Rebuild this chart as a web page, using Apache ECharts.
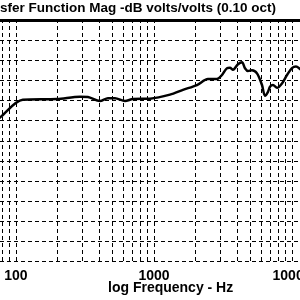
<!DOCTYPE html>
<html><head><meta charset="utf-8">
<script src="https://cdn.jsdelivr.net/npm/echarts@6/dist/echarts.min.js"></script>
<style>html,body{margin:0;padding:0;background:#fff}#c{width:300px;height:300px}</style>
</head><body><div id="c"></div>
<script>
const titleText = 'sfer Function Mag -dB volts/volts (0.10 oct)';
const xAxisTitle = 'log Frequency - Hz';
const freqs = [70, 76.6, 112, 198, 291, 332, 406, 464, 522, 617, 704, 935, 1306, 1622, 2049, 2461, 2861, 3110, 3381, 3553, 3736, 4062, 4342, 4564, 4800, 5130, 5578, 6061, 6372, 6700, 6927, 7282, 7787, 8463, 9201, 10000, 10690, 11430, 12420];
const magDb = [-25.2, -24.2, -19.8, -19.6, -19.0, -19.1, -20.1, -19.4, -19.4, -20.1, -19.6, -19.5, -18.5, -17.3, -16.1, -14.6, -14.6, -13.6, -11.9, -11.8, -12.3, -10.9, -10.4, -11.9, -12.6, -12.4, -13.2, -16.1, -18.8, -17.8, -16.5, -16.1, -16.8, -15.7, -13.6, -11.9, -11.5, -12.1, -13.1];
const xTickLabels = [100, 1000, 10000];
const xGridFreqs = [80, 90, 100, 200, 300, 400, 500, 600, 700, 800, 900, 1000, 2000, 3000, 4000, 5000, 6000, 7000, 8000, 9000, 10000];

const chart = echarts.init(document.getElementById('c'), null, {renderer: 'canvas'});
const font = '"Liberation Sans", Arial, sans-serif';
chart.setOption({
  animation: false,
  backgroundColor: '#fff',
  grid: {left: 0, right: 0, top: 20.5, bottom: 39, containLabel: false, outerBoundsMode: 'none'},
  xAxis: [{
    type: 'log', logBase: 10, min: 76.6, max: 11430,
    axisLine: {show: true, lineStyle: {color: '#000', width: 3}},
    axisTick: {show: false},
    splitLine: {show: false},
    axisLabel: {customValues: xTickLabels, formatter: v => String(Math.round(v)), color: '#000', fontWeight: 'bold', fontSize: 14, fontFamily: font, margin: 8, showMinLabel: true, showMaxLabel: true, hideOverlap: false, alignMinLabel: 'center', alignMaxLabel: 'center'}
  }, {
    type: 'log', logBase: 10, min: 76.6, max: 11430, position: 'top',
    axisLine: {show: true, lineStyle: {color: '#000', width: 3}},
    axisTick: {show: false}, axisLabel: {show: false}, splitLine: {show: false}
  }],
  yAxis: {
    type: 'value', min: -60, max: 0, interval: 5,
    axisLine: {show: false}, axisTick: {show: false}, axisLabel: {show: false},
    splitLine: {show: true, lineStyle: {color: '#000', width: 1, type: [4, 3]}}
  },
  graphic: [
    {type: 'text', left: 0, top: 1, style: {text: titleText, fill: '#000', font: 'bold 13.5px ' + font}},
    {type: 'text', left: 108, top: 281, style: {text: xAxisTitle, fill: '#000', font: 'bold 14px ' + font}}
  ],
  series: [{
    type: 'line', xAxisIndex: 0,
    data: freqs.map((f, i) => [f, magDb[i]]),
    showSymbol: false, smooth: 0.3,
    lineStyle: {color: '#000', width: 2.5},
    clip: true,
    markLine: {
      silent: true, symbol: 'none', label: {show: false},
      lineStyle: {color: '#000', width: 1, type: [4, 3]},
      data: xGridFreqs.map(f => ({xAxis: f}))
    }
  }]
});
</script></body></html>
